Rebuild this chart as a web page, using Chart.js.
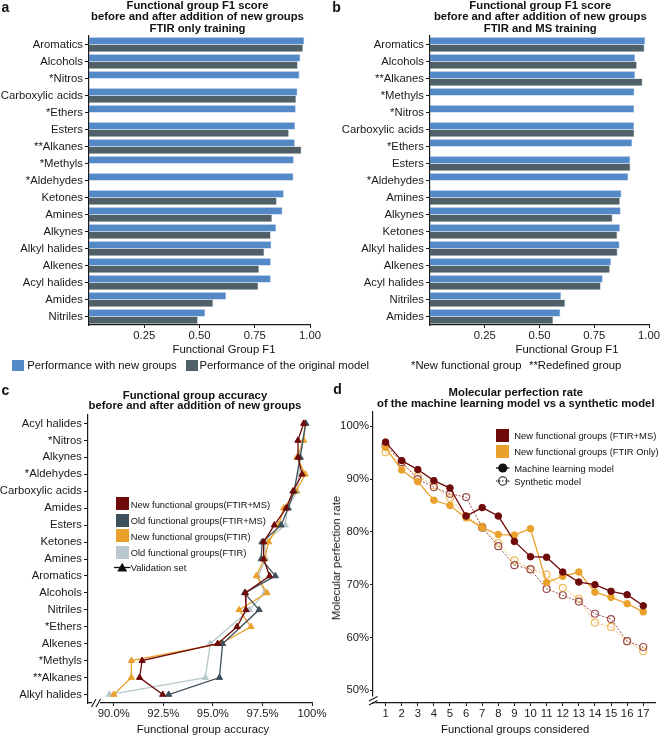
<!DOCTYPE html>
<html>
<head>
<meta charset="utf-8">
<script src="https://cdn.jsdelivr.net/npm/chart.js@4.4.1/dist/chart.umd.min.js"></script>
<style>
  body { margin: 0; background: #fff; }
  #wrap { position: relative; width: 661px; height: 737px; overflow: hidden;
          font-family: "Liberation Sans", Arial, sans-serif; color: #111; }
  canvas { position: absolute; }
  .t { position: absolute; white-space: nowrap; transform: translate(-50%, -50%); font-size: 11.3px; }
  .b { font-weight: bold; }
  .ttl { position: absolute; transform: translateX(-50%); text-align: center; font-weight: bold;
         font-size: 11.3px; white-space: nowrap; }
  .lg { position: absolute; white-space: nowrap; transform: translateY(-50%); font-size: 11.3px; }
  .sm { font-size: 9.4px; }
  .sq { position: absolute; }
  svg { position: absolute; overflow: visible; }
</style>
</head>
<body>
<div id="wrap">
  <canvas id="ca" width="330" height="345" style="left:0;top:0"></canvas>
  <canvas id="cb" width="331" height="345" style="left:330px;top:0"></canvas>
  <canvas id="cc" width="330" height="357" style="left:0;top:380px"></canvas>
  <canvas id="cd" width="331" height="357" style="left:330px;top:380px"></canvas>

  <!-- panel letters -->
  <div class="t b" style="left:5.5px;top:6.5px;font-size:14px">a</div>
  <div class="t b" style="left:336.5px;top:7px;font-size:14px">b</div>
  <div class="t b" style="left:5.5px;top:390px;font-size:14px">c</div>
  <div class="t b" style="left:337.5px;top:389px;font-size:14px">d</div>

  <!-- titles -->
  <div class="ttl" style="left:197.5px;top:0;line-height:11.3px">Functional group F1 score<br>before and after addition of new groups<br>FTIR only training</div>
  <div class="ttl" style="left:540.3px;top:0;line-height:11.3px">Functional group F1 score<br>before and after addition of new groups<br>FTIR and MS training</div>
  <div class="ttl" style="left:195px;top:389.6px;line-height:10.8px">Functional group accuracy<br>before and after addition of new groups</div>
  <div class="ttl" style="left:515.8px;top:387.4px;line-height:10.6px">Molecular perfection rate<br>of the machine learning model vs a synthetic model</div>

  <!-- axis titles -->
  <div class="t" style="left:224px;top:349.3px">Functional Group F1</div>
  <div class="t" style="left:567px;top:349.3px">Functional Group F1</div>
  <div class="t" style="left:203px;top:729.3px">Functional group accuracy</div>
  <div class="t" style="left:515.2px;top:729.3px">Functional groups considered</div>
  <div class="t" style="left:336px;top:558px;transform:translate(-50%,-50%) rotate(-90deg)">Molecular perfection rate</div>

  <!-- legend a/b -->
  <div class="sq" style="left:12px;top:359.5px;width:12px;height:11.5px;background:#5489c8"></div>
  <div class="lg" style="left:27.3px;top:365.3px">Performance with new groups</div>
  <div class="sq" style="left:186px;top:359.5px;width:12px;height:11.5px;background:#4f6069"></div>
  <div class="lg" style="left:199.5px;top:365.3px">Performance of the original model</div>
  <div class="lg" style="left:411px;top:365.3px">*New functional group</div>
  <div class="lg" style="left:529px;top:365.3px">**Redefined group</div>

  <!-- legend c -->
  <div class="sq" style="left:115.5px;top:496.8px;width:13.5px;height:13px;background:#6e0a0a"></div>
  <div class="lg sm" style="left:130.7px;top:504px">New functional groups(FTIR+MS)</div>
  <div class="sq" style="left:115.5px;top:513.5px;width:13.5px;height:13px;background:#3e505b"></div>
  <div class="lg sm" style="left:130.7px;top:520px">Old functional groups(FTIR+MS)</div>
  <div class="sq" style="left:115.5px;top:529.2px;width:13.5px;height:13px;background:#eaa12c"></div>
  <div class="lg sm" style="left:130.7px;top:535.5px">New functional groups(FTIR)</div>
  <div class="sq" style="left:115.5px;top:545.8px;width:13.5px;height:13px;background:#b9c8cc"></div>
  <div class="lg sm" style="left:130.7px;top:551.8px">Old functional groups(FTIR)</div>
  <svg style="left:114px;top:562px" width="17" height="11">
    <line x1="0" y1="5.5" x2="16.5" y2="5.5" stroke="#111" stroke-width="1.3"/>
    <polygon points="8.2,0.8 13.2,9.6 3.2,9.6" fill="#111"/>
  </svg>
  <div class="lg sm" style="left:130.7px;top:567.3px">Validation set</div>

  <!-- legend d -->
  <div class="sq" style="left:495.7px;top:428.5px;width:13.3px;height:13.5px;background:#6e0a0a"></div>
  <div class="lg sm" style="left:514.3px;top:435.3px">New functional groups (FTIR+MS)</div>
  <div class="sq" style="left:495.7px;top:444.5px;width:13.3px;height:13.5px;background:#eaa12c"></div>
  <div class="lg sm" style="left:514.3px;top:451px">New functional groups (FTIR Only)</div>
  <svg style="left:495.5px;top:462px" width="14" height="12">
    <line x1="0" y1="6" x2="13.5" y2="6" stroke="#111" stroke-width="1.3"/>
    <circle cx="6.8" cy="6" r="4.6" fill="#111"/>
  </svg>
  <div class="lg sm" style="left:514.3px;top:467.7px">Machine learning model</div>
  <svg style="left:495.5px;top:475px" width="14" height="12">
    <line x1="0" y1="6" x2="13.5" y2="6" stroke="#111" stroke-width="1" stroke-dasharray="1.5,1.5"/>
    <circle cx="6.8" cy="6" r="4.2" fill="none" stroke="#111" stroke-width="1.1"/>
  </svg>
  <div class="lg sm" style="left:514.3px;top:481px">Synthetic model</div>
</div>

<script>
// ---- panel a : FTIR only training ----
const aGroups = ['Aromatics', 'Alcohols', '*Nitros', 'Carboxylic acids', '*Ethers', 'Esters', '**Alkanes',
  '*Methyls', '*Aldehydes', 'Ketones', 'Amines', 'Alkynes', 'Alkyl halides', 'Alkenes', 'Acyl halides', 'Amides', 'Nitriles'];
const aNew = [0.974, 0.956, 0.952, 0.943, 0.935, 0.932, 0.931, 0.926, 0.925, 0.881, 0.875, 0.846, 0.825, 0.822, 0.822, 0.620, 0.525];
const aOld = [0.968, 0.944, null, 0.937, null, 0.904, 0.961, null, null, 0.849, 0.828, 0.822, 0.793, 0.769, 0.766, 0.561, 0.492];

// ---- panel b : FTIR and MS training ----
const bGroups = ['Aromatics', 'Alcohols', '**Alkanes', '*Methyls', '*Nitros', 'Carboxylic acids', '*Ethers', 'Esters',
  '*Aldehydes', 'Amines', 'Alkynes', 'Ketones', 'Alkyl halides', 'Alkenes', 'Acyl halides', 'Nitriles', 'Amides'];
const bNew = [0.982, 0.936, 0.936, 0.933, 0.932, 0.932, 0.923, 0.914, 0.905, 0.874, 0.870, 0.867, 0.865, 0.826, 0.788, 0.598, 0.595];
const bOld = [0.979, 0.944, 0.970, null, null, 0.933, null, 0.915, null, 0.867, 0.833, 0.855, 0.856, 0.821, 0.779, 0.617, 0.562];

const f1Ticks = [0.25, 0.5, 0.75, 1.0];

// ---- panel c : accuracy ----
const cGroups = ['Acyl halides', '*Nitros', 'Alkynes', '*Aldehydes', 'Carboxylic acids', 'Amides', 'Esters', 'Ketones',
  'Amines', 'Aromatics', 'Alcohols', 'Nitriles', '*Ethers', 'Alkenes', '*Methyls', '**Alkanes', 'Alkyl halides'];
const cNewMS   = [99.58, 99.29, 99.30, 99.50, 99.04, 98.70, 98.10, 97.56, 97.56, 97.86, 96.64, 96.67, 96.22, 95.24, 91.43, 91.30, 92.47];
const cOldMS   = [99.68, null, 99.40, null, 99.10, 98.80, 98.44, 97.48, 97.44, 98.15, 96.60, 97.33, null, 95.49, null, 95.33, 92.77];
const cNewFTIR = [99.65, 99.58, 99.24, 99.66, 99.20, 98.57, 98.32, 97.81, 97.60, 97.19, 97.73, 96.32, 96.92, 95.38, 90.89, 90.89, 90.00];
const cOldFTIR = [99.70, null, 99.41, null, 99.25, 98.75, 98.65, 97.60, 97.68, 97.28, 97.61, 96.85, null, 94.87, null, 94.62, 89.78];
const accTicks = [90, 92.5, 95, 97.5, 100];
const accTickLabels = ['90.0%', '92.5%', '95.0%', '97.5%', '100%'];

// ---- panel d : molecular perfection rate ----
const dGroups = [1, 2, 3, 4, 5, 6, 7, 8, 9, 10, 11, 12, 13, 14, 15, 16, 17];
const dMLMS    = [97.0, 93.5, 91.8, 89.7, 88.3, 83.0, 84.6, 83.0, 78.2, 75.3, 75.2, 72.4, 70.5, 70.0, 68.75, 68.1, 66.0];
const dMLFTIR  = [96.0, 91.7, 89.5, 86.0, 85.0, 82.65, 80.8, 79.5, 79.4, 80.6, 70.4, 71.6, 72.4, 68.6, 67.6, 66.4, 64.85];
const dSynMS   = [96.4, 93.2, 90.0, 88.45, 87.2, 86.6, 80.8, 77.3, 73.7, 72.9, 69.2, 68.0, 66.8, 64.5, 63.5, 59.3, 58.2];
const dSynFTIR = [95.1, 92.9, 90.5, 88.8, 86.4, 83.0, 81.0, 77.9, 74.6, 73.0, 71.9, 69.4, 67.3, 62.8, 62.0, 59.3, 57.4];
const rateTicks = [50, 60, 70, 80, 90, 100];

const BLUE = '#5489c8', GREY = '#4f6069';
const DRED = '#6e0a0a', SLATE = '#3e505b', ORANGE = '#eaa12c', LIGHT = '#b9c8cc';
const SYNRED = '#9c4d4d', SYNOR = '#f0bd62';
const INK = '#1a1a1a';

Chart.defaults.font.family = '"Liberation Sans", Arial, sans-serif';
Chart.defaults.font.size = 11.3;
Chart.defaults.color = INK;

// little "//" axis break
const axisBreak = {
  id: 'axisBreak',
  afterDraw(chart, args, o) {
    if (!o.lines) return;
    const ctx = chart.ctx;
    ctx.save();
    ctx.fillStyle = '#fff';
    ctx.fillRect(o.gap[0], o.gap[1], o.gap[2], o.gap[3]);
    ctx.strokeStyle = INK;
    ctx.lineWidth = 1.1;
    o.lines.forEach(l => {
      ctx.beginPath(); ctx.moveTo(l[0], l[1]); ctx.lineTo(l[2], l[3]); ctx.stroke();
    });
    ctx.restore();
  }
};

const axisBorder = { color: INK, width: 1.2 };
const noGrid = { drawOnChartArea: false, color: INK, tickLength: 3, offset: false };

function f1Chart(id, groups, newVals, oldVals, axisW, padR) {
  new Chart(document.getElementById(id), {
    type: 'bar',
    data: {
      labels: groups,
      datasets: [
        { data: newVals, backgroundColor: BLUE, borderColor: '#7aa5d8', borderWidth: { top: 0.6, right: 0.6, bottom: 0, left: 0 },
          categoryPercentage: 0.86, barPercentage: 1 },
        { data: oldVals, backgroundColor: GREY, borderColor: '#8a9aa1', borderWidth: { top: 0.6, right: 0.6, bottom: 0, left: 0 },
          categoryPercentage: 0.86, barPercentage: 1 }
      ]
    },
    options: {
      indexAxis: 'y', responsive: false, animation: false,
      layout: { padding: { top: 36, right: padR, left: 0, bottom: 0 } },
      plugins: { legend: { display: false }, tooltip: { enabled: false } },
      scales: {
        x: {
          type: 'linear', min: 0, max: 1,
          afterBuildTicks: s => { s.ticks = f1Ticks.map(v => ({ value: v })); },
          ticks: { callback: v => v.toFixed(2), padding: 1, maxRotation: 0, autoSkip: false },
          grid: noGrid, border: axisBorder,
          afterFit: s => { s.height = 20; }
        },
        y: {
          ticks: { padding: 2, autoSkip: false },
          grid: { drawOnChartArea: false, color: INK, tickLength: 4, offset: false },
          border: axisBorder,
          afterFit: s => { s.width = axisW; }
        }
      }
    }
  });
}

f1Chart('ca', aGroups, aNew, aOld, 89, 20);
f1Chart('cb', bGroups, bNew, bOld, 100, 11);

// panel c
function accSet(vals, col) {
  return { data: vals, borderColor: col, backgroundColor: col, borderWidth: 1.3,
           pointStyle: 'triangle', pointRadius: 3.6, pointBorderWidth: 1, spanGaps: true, tension: 0 };
}
new Chart(document.getElementById('cc'), {
  type: 'line',
  data: {
    labels: cGroups,
    datasets: [accSet(cNewMS, DRED), accSet(cOldMS, SLATE), accSet(cNewFTIR, ORANGE), accSet(cOldFTIR, LIGHT)]
  },
  plugins: [axisBreak],
  options: {
    indexAxis: 'y', responsive: false, animation: false,
    layout: { padding: { top: 35, right: 18, left: 0, bottom: 0 } },
    plugins: {
      legend: { display: false }, tooltip: { enabled: false },
      axisBreak: { gap: [92, 319, 8, 8], lines: [[91.5, 327, 96, 319], [96, 327, 100.5, 319]] }
    },
    scales: {
      x: {
        type: 'linear', min: 88.7, max: 100,
        afterBuildTicks: s => { s.ticks = accTicks.map(v => ({ value: v })); },
        ticks: { callback: (v, i) => accTickLabels[i], padding: 1, maxRotation: 0, autoSkip: false },
        grid: noGrid, border: axisBorder,
        afterFit: s => { s.height = 34; }
      },
      y: {
        type: 'category', offset: true,
        ticks: { padding: 2, autoSkip: false },
        grid: { drawOnChartArea: false, color: INK, tickLength: 4, offset: false },
        border: axisBorder,
        afterFit: s => { s.width = 88; }
      }
    }
  }
});

// panel d
function rateSet(vals, col, synth) {
  return {
    data: dGroups.map((g, i) => ({ x: g, y: vals[i] })),
    borderColor: col,
    backgroundColor: synth ? 'rgba(255,255,255,0)' : col,
    pointBorderColor: col,
    borderWidth: synth ? 1 : 1.3,
    borderDash: synth ? [2, 1.5] : [],
    pointRadius: synth ? 3.5 : 3.3,
    pointBorderWidth: synth ? 1.2 : 1,
    tension: 0
  };
}
new Chart(document.getElementById('cd'), {
  type: 'line',
  data: {
    datasets: [rateSet(dMLMS, DRED, false), rateSet(dMLFTIR, ORANGE, false),
               rateSet(dSynMS, SYNRED, true), rateSet(dSynFTIR, SYNOR, true)]
  },
  plugins: [axisBreak],
  options: {
    responsive: false, animation: false,
    layout: { padding: { top: 32, right: 3, left: 0, bottom: 0 } },
    plugins: {
      legend: { display: false }, tooltip: { enabled: false },
      axisBreak: { gap: [40, 316.5, 6, 6], lines: [[39, 321, 47.5, 316.5], [39, 325, 47.5, 320.5]] }
    },
    scales: {
      x: {
        type: 'linear', min: 0.22, max: 17.78,
        afterBuildTicks: s => { s.ticks = dGroups.map(v => ({ value: v })); },
        ticks: { padding: 1, maxRotation: 0, autoSkip: false },
        grid: noGrid, border: axisBorder,
        afterFit: s => { s.height = 34; }
      },
      y: {
        type: 'linear', min: 47.6, max: 102.7,
        afterBuildTicks: s => { s.ticks = rateTicks.map(v => ({ value: v })); },
        ticks: { callback: v => v + '%', padding: 1 },
        grid: noGrid, border: axisBorder,
        afterFit: s => { s.width = 43; }
      }
    }
  }
});
</script>
</body>
</html>
